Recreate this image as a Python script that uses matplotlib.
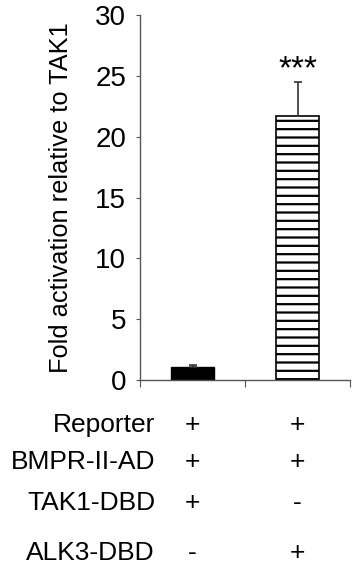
import matplotlib
matplotlib.use("Agg")
import matplotlib.pyplot as plt

# data
conditions = ["TAK1", "ALK3"]
values = [1.07, 21.7]
errors = [0.15, 2.8]
significance = ["", "***"]
row_labels = ["Reporter", "BMPR-II-AD", "TAK1-DBD", "ALK3-DBD"]
row_signs = [["+", "+"], ["+", "+"], ["+", "-"], ["-", "+"]]

plt.rcParams["font.family"] = ["Liberation Sans", "DejaVu Sans"]
plt.rcParams["hatch.linewidth"] = 1.6

fig = plt.figure(figsize=(3.52, 5.67), dpi=100)
ax = fig.add_axes([140 / 352, 1 - 380 / 567, 210 / 352, 365 / 567])

xpos = [0.5, 1.5]
ax.bar(xpos[0], values[0], width=0.41, color="black", edgecolor="black", linewidth=1)
ax.bar(xpos[1], values[1], width=0.41, color="white", edgecolor="black",
       hatch="--", linewidth=1.2)
for x, v, e in zip(xpos, values, errors):
    ax.errorbar(x, v, yerr=[[0], [e]], fmt="none", ecolor="#333333",
                elinewidth=1.2, capsize=3, capthick=1.2)
for x, v, e, s in zip(xpos, values, errors, significance):
    if s:
        ax.text(x, v + e - 0.3, s, ha="center", va="bottom", fontsize=24)

ax.set_xlim(0, 2)
ax.set_ylim(0, 30)
ax.set_yticks(range(0, 31, 5))
ax.set_xticks([0, 1, 2])
ax.set_xticklabels([])
for side in ["top", "right"]:
    ax.spines[side].set_visible(False)
for side in ["left", "bottom"]:
    ax.spines[side].set_color("#555555")
    ax.spines[side].set_linewidth(1)
ax.tick_params(axis="y", direction="out", length=3, color="#555555",
               labelsize=20, pad=7)
ax.tick_params(axis="x", direction="out", length=5, color="#555555")
ax.set_ylabel("Fold activation relative to TAK1", fontsize=18.3, labelpad=16)

# condition table under the axis
row_y = [425, 462, 503, 553]
for label, signs, y in zip(row_labels, row_signs, row_y):
    fig.text(155 / 352, 1 - y / 567, label, ha="right", va="center", fontsize=19)
    for x, s in zip(xpos, signs):
        xf = ax.transData.transform((x, 0))[0] / fig.bbox.width
        fig.text(xf, 1 - y / 567, s, ha="center", va="center", fontsize=19)

fig.savefig("out.png", dpi=100)
